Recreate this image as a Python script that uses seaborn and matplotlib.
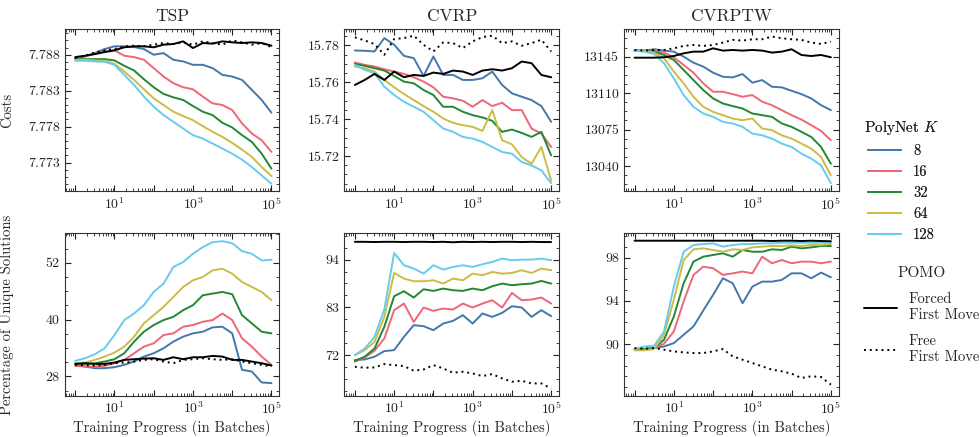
import numpy as np
import pandas as pd
import matplotlib
matplotlib.use("Agg")
import matplotlib.pyplot as plt
import seaborn as sns
from matplotlib.lines import Line2D
from matplotlib.ticker import AutoMinorLocator, LogLocator, FuncFormatter, NullFormatter, FixedLocator

# x grid: 4 points per decade, 10^0 .. 10^5
batches = 10 ** np.arange(0, 5.01, 0.25)
k_values = ["8", "16", "32", "64", "128"]
k_colors = ["#4477AA", "#EE6677", "#228833", "#CCBB44", "#66CCEE"]

# ---- TSP costs
tsp_cost = {
    "8": [7.78753, 7.78777, 7.78823, 7.78879, 7.78917, 7.78917, 7.78907, 7.78879, 7.78800, 7.78823, 7.78730,
          7.78707, 7.78660, 7.78660, 7.78614, 7.78520, 7.78497, 7.78450, 7.78311, 7.78171, 7.77994],
    "16": [7.78753, 7.78777, 7.78814, 7.78847, 7.78861, 7.78786, 7.78767, 7.78730, 7.78614, 7.78497, 7.78404,
           7.78348, 7.78320, 7.78218, 7.78124, 7.78101, 7.78031, 7.77845, 7.77705, 7.77612, 7.77449],
    "32": [7.78739, 7.78739, 7.78739, 7.78739, 7.78721, 7.78646, 7.78581, 7.78460, 7.78348, 7.78255, 7.78208,
           7.78171, 7.78087, 7.78008, 7.77961, 7.77854, 7.77789, 7.77682, 7.77588, 7.77425, 7.77216],
    "64": [7.78730, 7.78730, 7.78721, 7.78716, 7.78674, 7.78567, 7.78450, 7.78320, 7.78194, 7.78101, 7.78008,
           7.77947, 7.77891, 7.77807, 7.77728, 7.77658, 7.77574, 7.77481, 7.77379, 7.77239, 7.77113],
    "128": [7.78716, 7.78716, 7.78707, 7.78702, 7.78660, 7.78520, 7.78381, 7.78218, 7.78078, 7.77961, 7.77868,
            7.77775, 7.77682, 7.77635, 7.77565, 7.77495, 7.77425, 7.77341, 7.77239, 7.77122, 7.77006],
}
tsp_cost_forced = [7.78767, 7.78786, 7.78809, 7.78837, 7.78861, 7.78903, 7.78917, 7.78917, 7.78903, 7.78940, 7.78949,
                   7.78986, 7.78893, 7.78963, 7.78954, 7.78986, 7.78972, 7.78963, 7.78972, 7.78963, 7.78926]
tsp_cost_free = [7.78753, 7.78786, 7.78833, 7.78861, 7.78879, 7.78917, 7.78926, 7.78917, 7.78940, 7.78963, 7.78949,
                 7.78972, 7.78940, 7.78986, 7.78963, 7.78940, 7.78999, 7.78972, 7.78940, 7.78963, 7.78907]

# ---- CVRP costs
cvrp_cost = {
    "8": [15.77727, 15.77709, 15.77673, 15.78400, 15.78036, 15.77436, 15.77309, 15.76345, 15.77400, 15.76400, 15.76400,
          15.76127, 15.76127, 15.76218, 15.76582, 15.75855, 15.75400, 15.75218, 15.75036, 15.74709, 15.73855],
    "16": [15.77073, 15.76945, 15.76855, 15.76709, 15.76582, 15.76455, 15.76273, 15.76036, 15.75727, 15.75218, 15.75127,
           15.75000, 15.74673, 15.75036, 15.74709, 15.74891, 15.74491, 15.74491, 15.73491, 15.73218, 15.72491],
    "32": [15.77000, 15.76891, 15.76764, 15.76636, 15.76345, 15.76036, 15.75945, 15.75582, 15.75309, 15.74673, 15.74673,
           15.74400, 15.74218, 15.74091, 15.73909, 15.73309, 15.73436, 15.73255, 15.73036, 15.73309, 15.72036],
    "64": [15.76855, 15.76764, 15.76582, 15.76127, 15.75727, 15.75364, 15.75036, 15.74709, 15.74400, 15.74036, 15.73800,
           15.73673, 15.73582, 15.73364, 15.74491, 15.72855, 15.72636, 15.71945, 15.71582, 15.72491, 15.70673],
    "128": [15.76945, 15.76673, 15.76491, 15.75764, 15.75309, 15.74945, 15.74673, 15.74400, 15.73945, 15.73491, 15.73309,
            15.73036, 15.72945, 15.72764, 15.72491, 15.72218, 15.72127, 15.71673, 15.71491, 15.71218, 15.70527],
}
cvrp_cost_forced = [15.75855, 15.76127, 15.76455, 15.76127, 15.76582, 15.76273, 15.76400, 15.76345, 15.76527, 15.76455,
                    15.76636, 15.76582, 15.76400, 15.76636, 15.76709, 15.76636, 15.76764, 15.77127, 15.77036, 15.76400,
                    15.76273]
cvrp_cost_free = [15.78436, 15.78273, 15.78073, 15.77491, 15.78345, 15.78400, 15.78527, 15.78036, 15.77673, 15.78164,
                  15.78127, 15.77855, 15.78218, 15.78455, 15.78527, 15.78127, 15.78218, 15.77982, 15.78127, 15.78309,
                  15.77673]

# ---- CVRPTW costs
cvrptw_cost = {
    "8": [13150.8, 13150.8, 13152.1, 13150.8, 13149.8, 13145.0, 13139.2, 13135.4, 13129.6, 13125.7, 13125.1,
          13128.3, 13120.0, 13122.5, 13116.1, 13115.5, 13112.2, 13109.0, 13104.9, 13098.4, 13093.6],
    "16": [13150.8, 13150.8, 13150.5, 13148.9, 13144.4, 13137.0, 13129.6, 13119.3, 13111.3, 13111.3, 13109.0,
           13106.5, 13108.1, 13101.7, 13098.4, 13093.6, 13088.8, 13084.6, 13079.2, 13073.7, 13064.7],
    "32": [13150.8, 13150.8, 13149.8, 13146.6, 13141.8, 13132.2, 13122.5, 13112.9, 13104.9, 13100.0, 13097.5,
           13095.2, 13090.4, 13088.8, 13087.2, 13080.8, 13077.6, 13072.8, 13067.9, 13058.3, 13042.2],
    "64": [13150.8, 13150.8, 13148.9, 13143.4, 13130.6, 13119.3, 13106.5, 13096.8, 13092.0, 13088.8, 13085.6,
           13084.0, 13085.6, 13076.0, 13074.4, 13069.5, 13066.3, 13061.5, 13056.7, 13048.7, 13031.0],
    "128": [13150.8, 13149.8, 13147.6, 13138.6, 13124.1, 13108.1, 13096.8, 13090.4, 13087.2, 13082.4, 13080.8,
            13077.6, 13071.1, 13069.5, 13066.3, 13061.5, 13058.3, 13051.9, 13047.1, 13040.6, 13023.6],
}
cvrptw_cost_forced = [13144.0, 13144.0, 13144.0, 13144.4, 13145.6, 13148.2, 13149.8, 13149.8, 13153.0, 13150.8, 13151.4,
                      13150.8, 13151.4, 13150.8, 13148.9, 13149.8, 13152.1, 13146.6, 13145.6, 13146.6, 13144.4]
cvrptw_cost_free = [13151.4, 13150.8, 13151.4, 13151.4, 13153.0, 13155.3, 13156.2, 13155.3, 13156.2, 13158.5, 13161.1,
                    13160.4, 13161.7, 13161.7, 13164.3, 13162.7, 13161.7, 13161.1, 13158.5, 13157.2, 13159.4]

# ---- TSP unique solutions (%)
tsp_unique = {
    "8": [30.45, 30.10, 29.75, 29.75, 29.96, 30.45, 31.15, 32.20, 32.90, 33.95, 35.35,
          36.40, 37.10, 37.45, 38.36, 38.50, 37.10, 29.40, 29.05, 26.74, 26.60],
    "16": [30.24, 30.10, 30.10, 30.24, 30.80, 31.50, 32.90, 34.30, 35.00, 36.75, 37.10,
           38.50, 38.85, 39.55, 39.90, 41.29, 39.90, 36.05, 34.30, 32.20, 30.45],
    "32": [30.66, 30.66, 30.80, 31.15, 31.64, 32.90, 35.35, 37.45, 38.85, 39.90, 40.59,
           41.99, 43.04, 45.14, 45.49, 45.84, 45.35, 40.94, 39.20, 37.45, 37.10],
    "64": [30.80, 30.94, 31.50, 32.20, 33.04, 34.30, 36.40, 39.20, 40.94, 42.69, 44.79,
           46.89, 48.29, 48.99, 50.39, 50.74, 49.69, 47.94, 46.89, 45.84, 44.09],
    "128": [31.29, 31.85, 32.69, 33.95, 36.75, 39.90, 41.29, 43.04, 45.84, 47.59, 51.09,
            52.14, 53.89, 55.29, 56.34, 56.55, 56.13, 54.45, 53.89, 52.49, 52.63],
}
tsp_unique_forced = [30.66, 30.80, 30.66, 30.66, 30.94, 31.50, 31.64, 31.78, 31.85, 31.50, 32.06,
                     31.64, 32.06, 32.06, 32.34, 32.20, 31.50, 31.50, 31.15, 30.80, 30.31]
tsp_unique_free = [30.45, 30.38, 30.31, 30.45, 30.80, 30.94, 31.15, 31.50, 31.64, 31.15, 30.80,
                   31.50, 31.64, 31.85, 31.64, 31.50, 31.64, 31.15, 30.80, 30.45, 30.10]

# ---- CVRP unique solutions (%)
cvrp_unique = {
    "8": [70.85, 71.00, 71.62, 72.92, 73.15, 76.21, 78.90, 78.67, 77.75, 79.28, 79.89,
          81.20, 79.28, 81.58, 80.81, 81.73, 83.27, 82.96, 80.81, 82.35, 80.97],
    "16": [70.47, 71.46, 73.00, 75.83, 82.35, 83.88, 79.66, 82.96, 82.19, 82.73, 82.50,
           83.88, 82.96, 83.88, 84.65, 82.96, 86.33, 84.65, 84.80, 85.26, 83.88],
    "32": [70.70, 71.62, 73.53, 78.51, 85.57, 86.72, 85.26, 87.18, 86.79, 87.33, 86.95,
           86.79, 87.33, 86.95, 87.87, 88.48, 88.10, 88.33, 88.48, 89.09, 88.48],
    "64": [72.00, 73.15, 75.06, 80.81, 90.93, 89.63, 89.02, 89.02, 89.25, 88.48, 89.63,
           89.25, 90.78, 90.40, 91.16, 90.78, 90.93, 91.55, 90.93, 91.93, 91.55],
    "128": [72.00, 73.53, 76.21, 82.50, 95.53, 92.70, 91.93, 90.78, 92.70, 91.70, 92.31,
            92.70, 92.31, 92.93, 93.46, 94.23, 93.85, 94.00, 94.00, 94.23, 93.85],
}
cvrp_unique_forced = [98.10, 98.10, 98.05, 98.10, 98.10, 98.05, 98.10, 98.10, 98.05, 98.10, 98.00,
                      98.10, 98.05, 98.10, 98.05, 98.10, 98.10, 98.05, 98.10, 98.05, 98.05]
cvrp_unique_free = [69.32, 69.09, 69.16, 69.93, 69.70, 69.47, 68.40, 68.70, 69.70, 68.93, 67.94,
                    68.17, 67.78, 67.17, 67.63, 66.63, 65.87, 66.10, 65.48, 65.48, 64.33]

# ---- CVRPTW unique solutions (%)
cvrptw_unique = {
    "8": [89.54, 89.54, 89.63, 89.78, 90.09, 90.86, 91.63, 93.11, 94.55, 96.09, 95.63,
          93.78, 95.32, 95.78, 95.78, 95.94, 96.55, 96.55, 96.09, 96.62, 96.18],
    "16": [89.54, 89.54, 89.63, 90.03, 91.17, 93.94, 96.40, 97.17, 97.02, 96.40, 96.55,
           96.71, 96.55, 98.09, 97.48, 97.78, 97.48, 97.63, 97.63, 97.48, 97.63],
    "32": [89.54, 89.54, 89.63, 90.40, 92.55, 95.63, 97.63, 98.09, 98.25, 98.40, 98.09,
           98.71, 98.55, 98.55, 98.77, 98.71, 99.02, 98.86, 98.95, 99.08, 99.08],
    "64": [89.42, 89.42, 89.54, 90.86, 94.09, 97.78, 98.77, 98.86, 98.71, 98.55, 98.77,
           98.71, 98.95, 99.02, 99.08, 99.08, 99.14, 99.08, 99.17, 99.17, 99.26],
    "128": [89.54, 89.78, 89.85, 91.17, 95.32, 98.55, 99.17, 99.26, 99.32, 99.02, 99.17,
            99.26, 99.26, 99.32, 99.32, 99.38, 99.38, 99.38, 99.38, 99.38, 99.38],
}
cvrptw_unique_forced = [99.57, 99.57, 99.57, 99.57, 99.57, 99.57, 99.57, 99.57, 99.57, 99.57, 99.57,
                        99.57, 99.57, 99.57, 99.54, 99.57, 99.57, 99.54, 99.57, 99.54, 99.52]
cvrptw_unique_free = [89.63, 89.57, 89.63, 89.48, 89.32, 89.23, 89.17, 89.17, 89.32, 89.54, 88.86,
                      88.55, 88.25, 87.94, 87.63, 87.48, 87.26, 86.86, 87.02, 86.95, 86.25]

titles = ["TSP", "CVRP", "CVRPTW"]

sns.set_theme(style="ticks")
plt.rcParams["font.family"] = ["cmr10", "DejaVu Serif"]
plt.rcParams["mathtext.fontset"] = "cm"
plt.rcParams["axes.formatter.use_mathtext"] = True
plt.rcParams["axes.unicode_minus"] = False


def long_frame(polynet):
    rows = []
    for k in k_values:
        for b, v in zip(batches, polynet[k]):
            rows.append({"batch": b, "value": v, "K": k})
    return pd.DataFrame(rows)


panels = [
    (tsp_cost, tsp_cost_forced, tsp_cost_free, (7.769, 7.7916), [7.773, 7.778, 7.783, 7.788], "{:.3f}"),
    (cvrp_cost, cvrp_cost_forced, cvrp_cost_free, (15.7008, 15.789), [15.72, 15.74, 15.76, 15.78], "{:.2f}"),
    (cvrptw_cost, cvrptw_cost_forced, cvrptw_cost_free, (13015.6, 13171.7), [13040, 13075, 13110, 13145], "{:.0f}"),
    (tsp_unique, tsp_unique_forced, tsp_unique_free, (23.9, 58.2), [28, 40, 52], "{:.0f}"),
    (cvrp_unique, cvrp_unique_forced, cvrp_unique_free, (62.6, 100.05), [72, 83, 94], "{:.0f}"),
    (cvrptw_unique, cvrptw_unique_forced, cvrptw_unique_free, (85.2, 100.25), [90, 94, 98], "{:.0f}"),
]

fig, axes = plt.subplots(2, 3, figsize=(9.8, 4.37), dpi=100)
fig.subplots_adjust(left=0.066, right=0.856, top=0.934, bottom=0.094, wspace=0.302, hspace=0.258)

free_style = (0, (1, 2))

for i, (ax, (poly, forced, free, ylim, yticks, fmt)) in enumerate(zip(axes.flat, panels)):
    df = long_frame(poly)
    sns.lineplot(data=df, x="batch", y="value", hue="K", hue_order=k_values, palette=k_colors,
                 lw=1.4, legend=False, ax=ax)
    sns.lineplot(x=batches, y=forced, color="black", lw=1.4, ax=ax)
    sns.lineplot(x=batches, y=free, color="black", lw=1.4, linestyle=free_style, ax=ax)

    ax.set_xscale("log")
    ax.set_xlim(0.54, 1.6e5)
    ax.set_ylim(*ylim)
    ax.xaxis.set_major_locator(FixedLocator([1, 10, 100, 1e3, 1e4, 1e5]))
    ax.xaxis.set_major_formatter(FuncFormatter(
        lambda v, p: r"$10^{%d}$" % round(np.log10(v)) if round(np.log10(v)) % 2 == 1 else ""))
    ax.xaxis.set_minor_locator(LogLocator(base=10, subs=np.arange(2, 10), numticks=20))
    ax.xaxis.set_minor_formatter(NullFormatter())
    ax.set_yticks(yticks)
    ax.set_yticklabels([fmt.format(t) for t in yticks])
    ax.yaxis.set_minor_locator(AutoMinorLocator())
    ax.tick_params(which="both", direction="in", top=True, right=True, labelsize=10, colors="#222222")
    ax.tick_params(which="major", length=4, width=0.8)
    ax.tick_params(which="minor", length=2, width=0.6)
    for s in ax.spines.values():
        s.set_linewidth(0.8)
        s.set_color("#333333")
    ax.set_xlabel("")
    ax.set_ylabel("")
    if i < 3:
        ax.set_title(titles[i], fontsize=12.5, pad=6)
    else:
        ax.set_xlabel("Training Progress (in Batches)", fontsize=10.5, labelpad=2)

axes[0, 0].set_ylabel("Costs", fontsize=10.5)
axes[1, 0].set_ylabel("Percentage of Unique Solutions", fontsize=10.5)
axes[0, 0].yaxis.set_label_coords(-0.235, 0.5)
axes[1, 0].yaxis.set_label_coords(-0.235, 0.5)

poly_handles = [Line2D([], [], color=c, lw=1.4) for c in k_colors]
leg1 = fig.legend(poly_handles, k_values, title="PolyNet $K$", loc="upper left",
                  bbox_to_anchor=(0.868, 0.758), frameon=False, fontsize=10.5, title_fontsize=11,
                  handlelength=2.3, handletextpad=0.8, labelspacing=0.5, alignment="center")
pomo_handles = [Line2D([], [], color="black", lw=1.4),
                Line2D([], [], color="black", lw=1.4, linestyle=free_style)]
leg2 = fig.legend(pomo_handles, ["Forced\nFirst Move", "Free\nFirst Move"], title="POMO", loc="upper left",
                  bbox_to_anchor=(0.868, 0.42), frameon=False, fontsize=10.5, title_fontsize=11,
                  handlelength=2.3, handletextpad=0.8, labelspacing=0.85, alignment="center")
fig.add_artist(leg1)

plt.savefig("out.png", dpi=100)
